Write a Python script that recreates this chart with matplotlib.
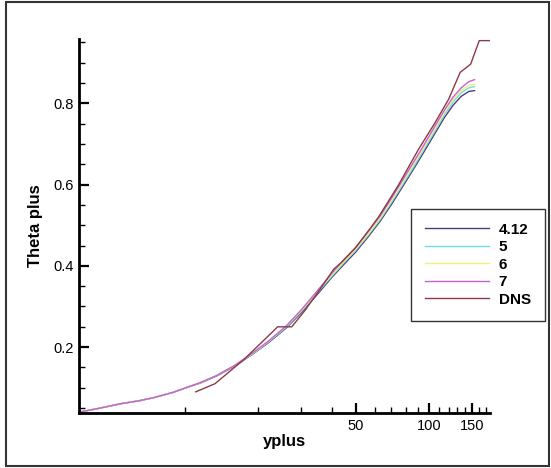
import matplotlib
matplotlib.use("Agg")
import matplotlib.pyplot as plt
from matplotlib.patches import Rectangle
from matplotlib.ticker import FixedLocator, NullFormatter, FixedFormatter

plt.rcParams['font.family'] = ['Liberation Sans', 'DejaVu Sans']

# Model profiles on a shared y+ grid
yplus = [3.7, 4.5, 5.5, 6.5, 7.5, 9, 10, 11.5, 13.5, 16, 19, 22, 26, 30, 35,
         40, 45, 50, 56, 63, 70, 78, 86, 95, 105, 115, 125, 135, 145, 153]

theta_412 = [0.040, 0.050, 0.061, 0.068, 0.076, 0.089, 0.099, 0.111, 0.129, 0.153,
             0.183, 0.211, 0.247, 0.285, 0.331, 0.372, 0.405, 0.434, 0.470, 0.510,
             0.551, 0.596, 0.637, 0.680, 0.724, 0.764, 0.795, 0.817, 0.829, 0.831]
theta_5 = [0.040, 0.050, 0.061, 0.068, 0.076, 0.089, 0.099, 0.112, 0.130, 0.154,
           0.184, 0.213, 0.249, 0.288, 0.335, 0.375, 0.409, 0.438, 0.474, 0.514,
           0.556, 0.601, 0.642, 0.686, 0.730, 0.771, 0.803, 0.826, 0.838, 0.841]
theta_6 = [0.040, 0.050, 0.061, 0.068, 0.076, 0.089, 0.099, 0.112, 0.130, 0.155,
           0.185, 0.214, 0.251, 0.290, 0.338, 0.378, 0.412, 0.441, 0.477, 0.518,
           0.560, 0.606, 0.648, 0.691, 0.736, 0.776, 0.809, 0.832, 0.844, 0.847]
theta_7 = [0.040, 0.050, 0.061, 0.068, 0.076, 0.089, 0.099, 0.112, 0.130, 0.155,
           0.186, 0.215, 0.252, 0.292, 0.340, 0.382, 0.417, 0.445, 0.483, 0.523,
           0.566, 0.612, 0.654, 0.697, 0.742, 0.782, 0.815, 0.838, 0.853, 0.858]

# DNS reference profile
yplus_dns = [11.1, 13.3, 17.5, 20.5, 24, 27.4, 31, 36, 40.7, 44, 50, 57, 62,
             75, 90, 105, 120, 133.7, 147.5, 160, 177]
theta_dns = [0.090, 0.110, 0.170, 0.210, 0.250, 0.250, 0.290, 0.345, 0.392, 0.410,
             0.445, 0.490, 0.520, 0.600, 0.685, 0.750, 0.810, 0.876, 0.896, 0.954,
             0.954]

labels = ["4.12", "5", "6", "7", "DNS"]
colors = ["#4a3f7a", "#6fdede", "#f2ee7a", "#c65fd6", "#8c3a48"]

fig = plt.figure(figsize=(5.51, 4.68), dpi=100)
ax = fig.add_axes([79 / 551, 1 - 413 / 468, (490 - 79) / 551, (413 - 39) / 468])

series = [theta_412, theta_5, theta_6, theta_7]
for ys, lab, c in zip(series, labels[:4], colors[:4]):
    ax.plot(yplus, ys, color=c, lw=1.0, label=lab)
ax.plot(yplus_dns, theta_dns, color=colors[4], lw=1.0, label=labels[4])

ax.set_xscale('log')
ax.set_xlim(3.7, 177)
ax.set_ylim(0.038, 0.958)

ax.xaxis.set_major_locator(FixedLocator([50, 100, 150]))
ax.xaxis.set_major_formatter(FixedFormatter(["50", "100", "150"]))
ax.xaxis.set_minor_locator(FixedLocator([10, 20, 30, 40, 60, 70, 80, 90,
                                         110, 120, 130, 140, 160, 170]))
ax.xaxis.set_minor_formatter(NullFormatter())

ax.yaxis.set_major_locator(FixedLocator([0.2, 0.4, 0.6, 0.8]))
ax.yaxis.set_major_formatter(FixedFormatter(["0.2", "0.4", "0.6", "0.8"]))
ax.yaxis.set_minor_locator(FixedLocator([0.05, 0.1, 0.15, 0.25, 0.3, 0.35, 0.45,
                                         0.5, 0.55, 0.65, 0.7, 0.75, 0.85, 0.9, 0.95]))

for s in ['top', 'right']:
    ax.spines[s].set_visible(False)
for s in ['left', 'bottom']:
    ax.spines[s].set_linewidth(2.0)

ax.tick_params(which='major', direction='in', length=7, width=1.6,
               labelsize=10.5, pad=4)
ax.tick_params(which='minor', direction='in', length=4, width=1.0)

ax.set_xlabel("yplus", fontsize=12, fontweight='bold', labelpad=1)
ax.set_ylabel("Theta plus", fontsize=12, fontweight='bold', labelpad=7)

leg = ax.legend(loc='upper left', bbox_to_anchor=(411 / 551, 1 - 209 / 468),
                bbox_transform=fig.transFigure, borderaxespad=0,
                frameon=True, fancybox=False,
                handlelength=4.2, handletextpad=0.65, labelspacing=0.23,
                borderpad=0.9, prop={'size': 11, 'weight': 'bold'})
leg.get_frame().set_edgecolor('black')
leg.get_frame().set_linewidth(1.0)

fig.patches.append(Rectangle((6 / 551, 2 / 468), 543 / 551, 464 / 468,
                             transform=fig.transFigure, fill=False,
                             edgecolor='#333333', linewidth=1.5))

fig.savefig("out.png", dpi=100)
